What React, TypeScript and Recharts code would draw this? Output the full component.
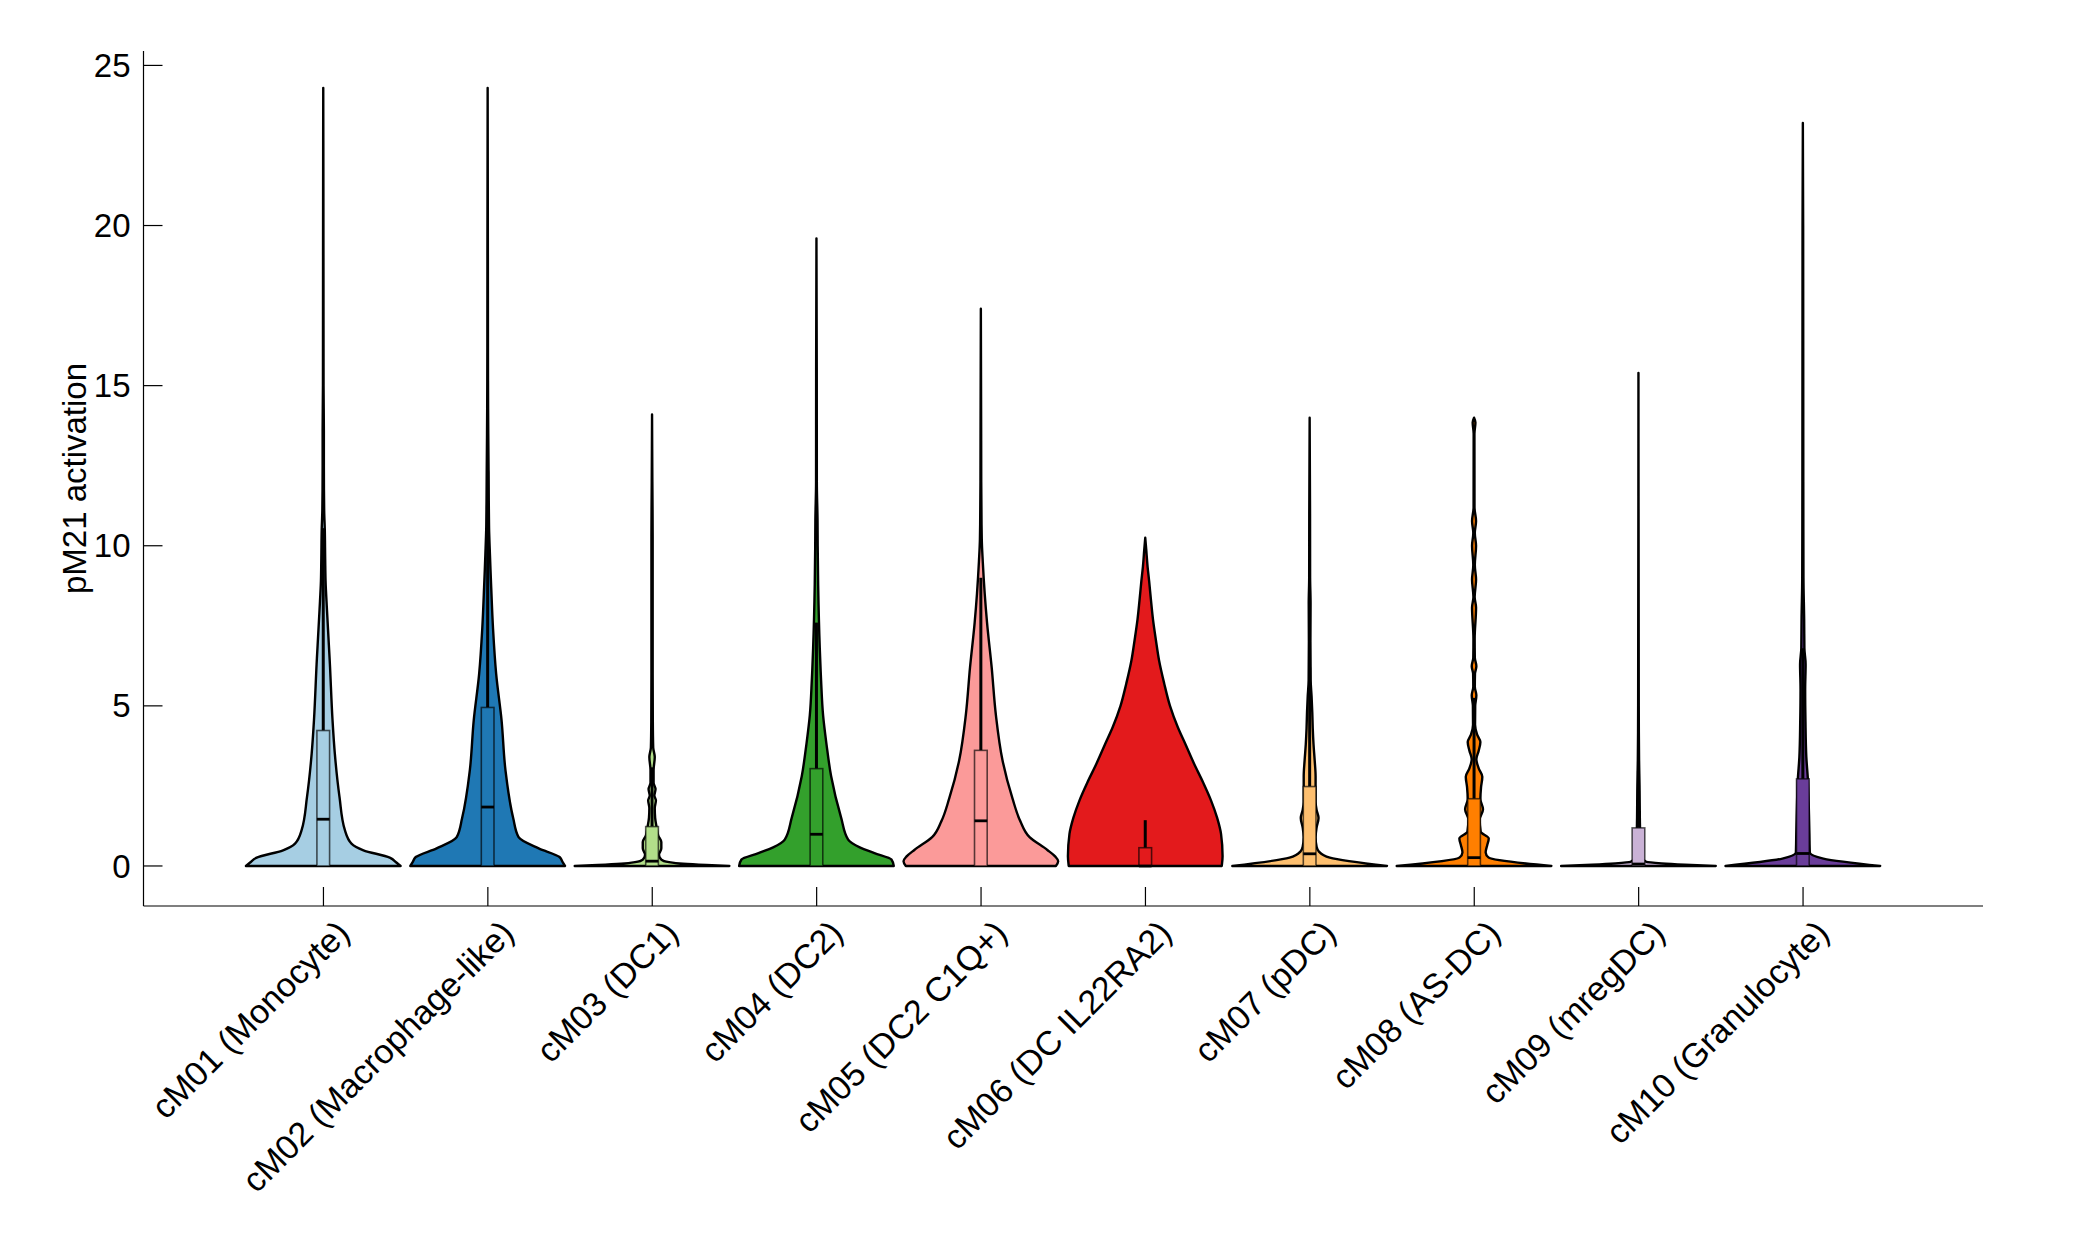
import React from 'react';
import { ComposedChart, Bar, XAxis, YAxis } from 'recharts';

const categories = [
  'cM01 (Monocyte)',
  'cM02 (Macrophage-like)',
  'cM03 (DC1)',
  'cM04 (DC2)',
  'cM05 (DC2 C1Q+)',
  'cM06 (DC IL22RA2)',
  'cM07 (pDC)',
  'cM08 (AS-DC)',
  'cM09 (mregDC)',
  'cM10 (Granulocyte)',
];
const colors = ['#a6cee3', '#1f78b4', '#b2df8a', '#33a02c', '#fb9a99', '#e31a1c', '#fdbf6f', '#ff7f00', '#cab2d6', '#6a3d9a'];
const violinMax = [24.3, 24.3, 14.1, 19.6, 17.4, 10.25, 14.0, 14.0, 15.4, 23.2];
const boxQ1 = [0, 0, 0, 0, 0, 0, 0, 0, 0, 0];
const boxMedian = [1.46, 1.84, 0.15, 0.99, 1.41, 0.0, 0.38, 0.26, 0.06, 0.39];
const boxQ3 = [4.23, 4.95, 1.23, 3.04, 3.61, 0.57, 2.48, 2.1, 1.19, 2.72];
const whiskerHigh = [10.55, 12.35, 3.08, 7.6, 9.0, 1.43, 6.2, 5.25, 2.98, 6.8];
const yTicks = [0, 5, 10, 15, 20, 25];

// density profiles: [value, relative half-width]
const densityCM01 = [[0,1.0],[0.1,0.95],[0.26,0.86],[0.49,0.52],[0.7,0.365],[1.12,0.28],[2.16,0.21],[3.5,0.15],[4.55,0.12],[6.3,0.086],[8.0,0.048],[8.9,0.03],[9.6,0.025],[10.5,0.02],[11.1,0.012],[12.5,0.008],[13.6,0.008],[15,0.004],[18,0.003],[21,0.002],[24.3,0]];
const densityCM02 = [[0,1.0],[0.12,0.97],[0.28,0.93],[0.55,0.66],[0.9,0.4],[1.5,0.33],[3.0,0.23],[4.55,0.18],[6.0,0.11],[7.4,0.07],[8.7,0.046],[9.7,0.03],[10.6,0.018],[12.3,0.012],[13.5,0.008],[14.3,0.006],[16,0.004],[19,0.003],[24.3,0]];
const densityCM03 = [[0,1.0],[0.03,0.7],[0.07,0.4],[0.12,0.22],[0.2,0.12],[0.35,0.09],[0.55,0.12],[0.75,0.12],[0.95,0.08],[1.2,0.06],[1.5,0.04],[1.8,0.035],[2.05,0.05],[2.2,0.03],[2.4,0.045],[2.6,0.02],[3.0,0.02],[3.4,0.035],[3.7,0.015],[4.5,0.01],[6,0.008],[8.5,0.008],[10.3,0.008],[12,0.004],[14.1,0]];
const densityCM04 = [[0,1.0],[0.2,0.97],[0.4,0.75],[0.58,0.56],[0.82,0.41],[1.5,0.32],[2.8,0.19],[3.8,0.13],[4.7,0.086],[5.8,0.06],[6.8,0.043],[8.8,0.022],[10.0,0.016],[10.8,0.014],[12,0.005],[15.5,0.004],[19.6,0]];
const densityCM05 = [[0,0.97],[0.15,1.0],[0.3,0.96],[0.5,0.86],[0.9,0.63],[1.4,0.51],[2.1,0.41],[3.3,0.28],[4.7,0.195],[6.2,0.14],[7.6,0.08],[8.5,0.05],[9.5,0.025],[10.2,0.012],[12,0.005],[13.5,0.004],[17.4,0]];
const densityCM06 = [[0,0.99],[0.3,1.0],[1.0,0.98],[1.5,0.93],[2.05,0.85],[2.6,0.75],[3.2,0.63],[3.8,0.52],[4.34,0.42],[5.0,0.32],[5.7,0.245],[6.4,0.18],[7.05,0.138],[7.7,0.1],[8.3,0.074],[8.9,0.05],[9.35,0.03],[9.9,0.012],[10.25,0]];
const densityCM07 = [[0,1.0],[0.26,0.26],[0.45,0.12],[0.6,0.09],[0.9,0.077],[1.2,0.09],[1.5,0.115],[1.75,0.09],[2.0,0.077],[2.8,0.077],[3.3,0.065],[3.8,0.05],[4.3,0.04],[4.8,0.034],[5.3,0.025],[5.8,0.013],[7,0.01],[8.2,0.012],[9,0.006],[11,0.005],[14,0]];
const densityCM08 = [[0,1.0],[0.26,0.19],[0.42,0.15],[0.65,0.17],[0.86,0.19],[1.07,0.086],[1.45,0.073],[1.77,0.116],[2.09,0.082],[2.45,0.09],[2.79,0.107],[3.05,0.06],[3.33,0.03],[3.6,0.06],[3.87,0.082],[4.1,0.04],[4.41,0.013],[5.0,0.015],[5.33,0.03],[5.6,0.01],[6.0,0.012],[6.24,0.03],[6.5,0.01],[7.1,0.008],[8.07,0.026],[8.4,0.008],[8.94,0.026],[9.4,0.01],[10.0,0.026],[10.4,0.01],[10.77,0.026],[11.2,0.006],[13.5,0.005],[13.85,0.018],[14.0,0]];
const densityCM09 = [[0,1.0],[0.04,0.6],[0.08,0.3],[0.13,0.1],[0.3,0.04],[0.8,0.025],[1.5,0.018],[2.5,0.014],[3.3,0.008],[5,0.004],[15.4,0]];
const densityCM10 = [[0,1.0],[0.23,0.265],[0.42,0.09],[1.0,0.085],[2.0,0.075],[2.7,0.065],[3.4,0.045],[4.5,0.034],[5.5,0.03],[6.3,0.036],[6.8,0.02],[7.7,0.017],[9,0.008],[12,0.006],[16,0.005],[20,0.004],[23.2,0]];

const densities = [densityCM01, densityCM02, densityCM03, densityCM04, densityCM05, densityCM06, densityCM07, densityCM08, densityCM09, densityCM10];

const data = categories.map((name, i) => ({
  name,
  top: violinMax[i],
  color: colors[i],
  q1: boxQ1[i],
  median: boxMedian[i],
  q3: boxQ3[i],
  whisker: whiskerHigh[i],
  density: densities[i],
}));

const FONT = '"Liberation Sans", Arial, Helvetica, sans-serif';

function monoSlopes(xs: number[], ys: number[]): number[] {
  const n = xs.length;
  const m = new Array(n).fill(0);
  const h: number[] = [];
  const s: number[] = [];
  for (let i = 0; i < n - 1; i++) {
    h[i] = xs[i + 1] - xs[i];
    s[i] = (ys[i + 1] - ys[i]) / h[i];
  }
  for (let i = 1; i < n - 1; i++) {
    const p = (s[i - 1] * h[i] + s[i] * h[i - 1]) / (h[i - 1] + h[i]);
    m[i] = (Math.sign(s[i - 1]) + Math.sign(s[i])) * Math.min(Math.abs(s[i - 1]), Math.abs(s[i]), 0.5 * Math.abs(p)) || 0;
  }
  if (n > 2) {
    m[0] = (3 * s[0] - m[1]) / 2;
    m[n - 1] = (3 * s[n - 2] - m[n - 2]) / 2;
    if (m[0] * s[0] <= 0) m[0] = 0;
    if (m[n - 1] * s[n - 2] <= 0) m[n - 1] = 0;
  } else if (n === 2) {
    m[0] = s[0];
    m[1] = s[0];
  }
  return m;
}

const ViolinShape = (props: any) => {
  const { x, y, width, height, payload } = props;
  if (!payload || !isFinite(x) || !isFinite(y)) return null;
  const top = payload.top;
  const base = y + height;
  const k = height / top;
  const pix = (v: number) => base - v * k;
  const cx = x + width / 2;
  const H = width * 0.4715;
  const pts = payload.density as number[][];
  const vs = pts.map((p) => p[0]);
  const ws = pts.map((p) => p[1]);
  const m = monoSlopes(vs, ws);
  const n = vs.length;
  const f = (a: number) => a.toFixed(2);
  let d = `M${f(cx - ws[0] * H)},${f(pix(vs[0]))}`;
  for (let i = 0; i < n - 1; i++) {
    const hh = vs[i + 1] - vs[i];
    d += ` C${f(cx - (ws[i] + (m[i] * hh) / 3) * H)},${f(pix(vs[i] + hh / 3))} ${f(cx - (ws[i + 1] - (m[i + 1] * hh) / 3) * H)},${f(pix(vs[i + 1] - hh / 3))} ${f(cx - ws[i + 1] * H)},${f(pix(vs[i + 1]))}`;
  }
  d += ` L${f(cx + ws[n - 1] * H)},${f(pix(vs[n - 1]))}`;
  for (let i = n - 2; i >= 0; i--) {
    const hh = vs[i + 1] - vs[i];
    d += ` C${f(cx + (ws[i + 1] - (m[i + 1] * hh) / 3) * H)},${f(pix(vs[i + 1] - hh / 3))} ${f(cx + (ws[i] + (m[i] * hh) / 3) * H)},${f(pix(vs[i] + hh / 3))} ${f(cx + ws[i] * H)},${f(pix(vs[i]))}`;
  }
  d += ' Z';
  const bw = width * 0.0773;
  return (
    <g>
      <path d={d} fill={payload.color} stroke="#000" strokeWidth={2.4} strokeLinejoin="round" />
      <line x1={cx} x2={cx} y1={pix(payload.q3)} y2={pix(payload.whisker)} stroke="#000" strokeWidth={3} />
      <rect
        x={cx - bw / 2}
        y={pix(payload.q3)}
        width={bw}
        height={pix(payload.q1) - pix(payload.q3)}
        fill={payload.color}
        stroke="#000"
        strokeOpacity={0.65}
        strokeWidth={1.6}
      />
      <line x1={cx - bw / 2} x2={cx + bw / 2} y1={pix(payload.median)} y2={pix(payload.median)} stroke="#000" strokeWidth={2.8} />
    </g>
  );
};

const XTick = (props: any) => {
  const { x, y, payload } = props;
  const tx = x + 28;
  const ty = y + 29;
  return (
    <g>
      <line x1={x} x2={x} y1={y} y2={y - 19} stroke="#000" strokeWidth={1.2} />
      <text
        x={tx}
        y={ty}
        transform={`rotate(-45, ${tx}, ${ty})`}
        textAnchor="end"
        fontFamily={FONT}
        fontSize={34}
        fill="#000"
      >
        {payload.value}
      </text>
    </g>
  );
};

const YTick = (props: any) => {
  const { x, y, payload } = props;
  return (
    <g>
      <line x1={x} x2={x + 19} y1={y} y2={y} stroke="#000" strokeWidth={1.2} />
      <text x={x - 13} y={y} dy="0.35em" textAnchor="end" fontFamily={FONT} fontSize={33} fill="#000">
        {payload.value}
      </text>
    </g>
  );
};

const YLabel = (props: any) => {
  const vb = props.viewBox || {};
  const bx = vb.x + (vb.width || 0) - 58;
  const cy = vb.y + vb.height / 2;
  return (
    <text
      x={bx}
      y={cy}
      transform={`rotate(-90, ${bx}, ${cy})`}
      textAnchor="middle"
      fontFamily={FONT}
      fontSize={33}
      fill="#000"
    >
      pM21 activation
    </text>
  );
};

export default function App() {
  return (
    <div style={{ width: 2067, height: 1234, background: '#fff' }}>
      <ComposedChart
        width={2067}
        height={1234}
        data={data}
        margin={{ top: 43, left: 134.5, right: 92, bottom: 335 }}
        barCategoryGap={0}
        barGap={0}
      >
        <XAxis
          dataKey="name"
          type="category"
          padding={{ left: 97.75, right: 97.75 }}
          interval={0}
          height={1}
          tickSize={0}
          tickMargin={0}
          tickLine={false}
          axisLine={{ stroke: '#000', strokeWidth: 1.2 }}
          tick={<XTick />}
        />
        <YAxis
          type="number"
          domain={[-1.25, 25.45]}
          allowDataOverflow
          ticks={yTicks}
          interval={0}
          width={1}
          tickSize={0}
          tickMargin={0}
          tickLine={false}
          axisLine={{ stroke: '#000', strokeWidth: 1.2 }}
          tick={<YTick />}
          label={<YLabel />}
        />
        <Bar dataKey="top" isAnimationActive={false} shape={<ViolinShape />} />
      </ComposedChart>
    </div>
  );
}
